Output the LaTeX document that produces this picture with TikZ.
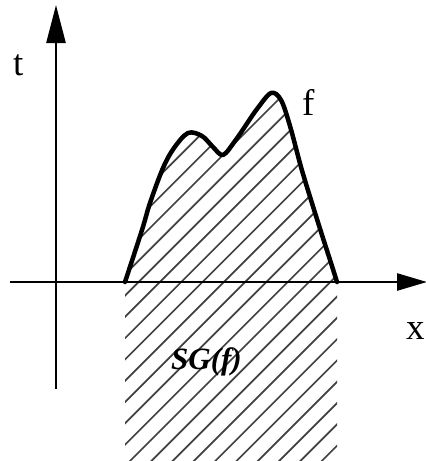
\documentclass[tikz,border=0pt]{standalone}
\usepackage{fontspec}
\setmainfont{Liberation Serif}
\usetikzlibrary{arrows.meta}
\begin{document}
\begin{tikzpicture}[x=1pt,y=-1pt,
  axis/.style={line width=2.6pt},
  curvestyle/.style={line width=4.5pt,line join=round,line cap=round},
  hatchline/.style={black!75,line width=1.7pt},
  lbl/.style={inner sep=0pt,font=\fontsize{37}{40}\selectfont},
  sglbl/.style={inner sep=0pt,font=\fontsize{31}{34}\selectfont\bfseries\itshape}]
\useasboundingbox (0,0) rectangle (426,461);
% hatched region
\begin{scope}
  \clip plot[smooth,tension=0.55] coordinates {(125,282) (142,230) (150,203) (163,168) (174,148) (188,133) (202,136) (213,147) (223,155) (235,141) (246,125) (257,109) (271,93) (281,100) (290,126) (301,167) (311,200) (322,235) (331,263) (337,282)} -- (337,470) -- (125,470) -- cycle;
  \foreach \k in {-26,...,12} {
    \pgfmathsetmacro{\c}{121+21.3*\k}
    \draw[hatchline] (\c,470) -- (\c+460,10);
  }
\end{scope}
% axes
\coordinate (vs) at (56,389);
\coordinate (ve) at (56,5);
\coordinate (hs) at (10,282);
\coordinate (he) at (427,282);
\draw[axis,-{Triangle[length=38pt,width=19pt]}] (vs) -- (ve);
\draw[axis,-{Triangle[length=30pt,width=17pt]}] (hs) -- (he);
% curve
\draw[curvestyle] plot[smooth,tension=0.55] coordinates {(125,282) (142,230) (150,203) (163,168) (174,148) (188,133) (202,136) (213,147) (223,155) (235,141) (246,125) (257,109) (271,93) (281,100) (290,126) (301,167) (311,200) (322,235) (331,263) (337,282)};
% labels
\node[lbl,anchor=base west] (tl) at (13,75) {t};
\node[lbl,anchor=base west] (fl) at (302,115) {f};
\node[lbl,anchor=base west] (xl) at (406,339) {x};
\node[sglbl,anchor=base west] (sg) at (171,369) {SG(f)};
\end{tikzpicture}
\end{document}
